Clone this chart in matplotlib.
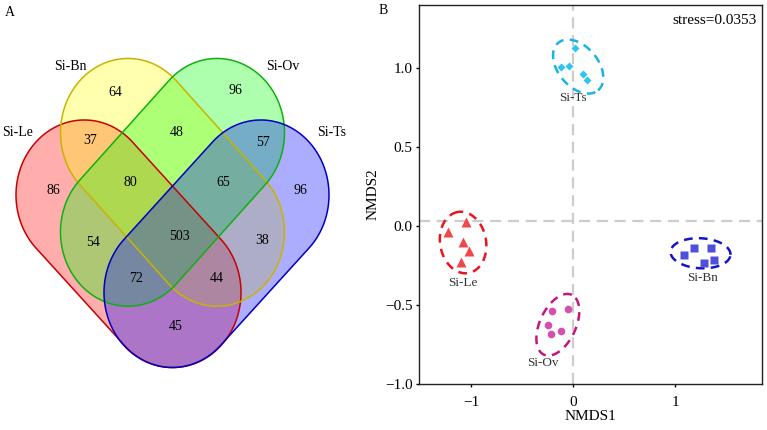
import numpy as np
import matplotlib
matplotlib.use('Agg')
import matplotlib.pyplot as plt
from matplotlib.patches import Polygon

plt.rcParams['font.family'] = ['Liberation Serif', 'DejaVu Serif']
plt.rcParams['axes.unicode_minus'] = True

# ---- Venn data (panel A) ----
venn_names = ['Si-Le', 'Si-Bn', 'Si-Ov', 'Si-Ts']
venn_fill = ['#ff0000', '#ffff00', '#00ff00', '#0000ff']
venn_edge = ['#c80000', '#c8b400', '#10b010', '#0000c0']
region_names = ['Le', 'Bn', 'Ov', 'Ts', 'Le&Bn', 'Bn&Ov', 'Ov&Ts',
                'Le&Ov', 'Bn&Ts', 'Le&Ts', 'Le&Bn&Ov', 'Bn&Ov&Ts',
                'Le&Ov&Ts', 'Le&Bn&Ts', 'all']
region_counts = [86, 64, 96, 96, 37, 48, 57, 54, 38, 45, 80, 65, 72, 44, 503]

# ---- NMDS data (panel B) ----
groups = ['Si-Le', 'Si-Bn', 'Si-Ov', 'Si-Ts']
le_x = [-1.052, -1.223, -1.075, -1.020, -1.098]
le_y = [0.027, -0.040, -0.099, -0.156, -0.229]
bn_x = [1.088, 1.179, 1.353, 1.277, 1.382]
bn_y = [-0.183, -0.141, -0.141, -0.234, -0.215]
ov_x = [-0.209, -0.052, -0.242, -0.219, -0.121]
ov_y = [-0.539, -0.524, -0.625, -0.682, -0.665]
ts_x = [0.020, -0.120, -0.036, 0.095, 0.134]
ts_y = [1.130, 1.008, 1.016, 0.964, 0.924]
stress = 0.0353

fig = plt.figure(figsize=(7.67, 4.30), dpi=100)

# ================= Panel A: Venn =================
axv = fig.add_axes([0, 0, 350 / 767, 1])
axv.set_xlim(0, 350)
axv.set_ylim(430, 0)
axv.axis('off')


def capsule(c1, c2, r, s=1.1, n=80):
    # stadium shape, built with round caps then stretched vertically by s
    p1 = np.array([c1[0], c1[1] / s])
    p2 = np.array([c2[0], c2[1] / s])
    phi = np.arctan2(p2[1] - p1[1], p2[0] - p1[0])
    t2 = np.linspace(phi - np.pi / 2, phi + np.pi / 2, n)
    t1 = np.linspace(phi + np.pi / 2, phi + 3 * np.pi / 2, n)
    xs = np.concatenate([p2[0] + r * np.cos(t2), p1[0] + r * np.cos(t1)])
    ys = np.concatenate([p2[1] + r * np.sin(t2), p1[1] + r * np.sin(t1)])
    return np.column_stack([xs, ys * s])


mid = 172.5
shapes = [
    capsule((84.2, 195), (172.8, 292.5), 68.2),
    capsule((128, 132.7), (217, 232), 67.5),
    capsule((2 * mid - 128, 132.7), (2 * mid - 217, 232), 67.5),
    capsule((2 * mid - 84.2, 195), (2 * mid - 172.8, 292.5), 68.2),
]
for pts, fc in zip(shapes, venn_fill):
    axv.add_patch(Polygon(pts, closed=True, facecolor=fc, alpha=0.32,
                          edgecolor='none'))
for pts, ec in zip(shapes, venn_edge):
    axv.add_patch(Polygon(pts, closed=True, facecolor='none',
                          edgecolor=ec, lw=1.1))

region_pos = [(53, 190), (115, 92), (235, 90), (300, 190), (90, 141),
              (177, 132), (263, 143), (93, 243), (262, 240), (176, 327),
              (130, 183), (223, 183), (136, 278), (217, 278), (179, 236)]
for (x, y), v in zip(region_pos, region_counts):
    axv.text(x, y, str(v), ha='center', va='center', fontsize=10)

label_pos = [(18, 132), (70, 66), (283, 66), (332, 132)]
for (x, y), name in zip(label_pos, venn_names):
    axv.text(x, y, name, ha='center', va='center', fontsize=10)
axv.text(10, 12, 'A', ha='center', va='center', fontsize=10)

# ================= Panel B: NMDS =================
ax = fig.add_axes([419 / 767, 46 / 430, 343 / 767, 379 / 430])
ax.set_xlim(-1.51, 1.85)
ax.set_ylim(-1.0, 1.40)
fig.text(383 / 767, 1 - 10 / 430, 'B', ha='center', va='center', fontsize=10)

ax.axvline(0, color='#cccccc', lw=1.6, ls=(0, (5, 3)), zorder=0)
ax.axhline(0.03, color='#cccccc', lw=1.6, ls=(0, (5, 3)), zorder=0)

sx = 343 / (1.85 + 1.51)
sy = 379 / (1.40 + 1.0)


def ellipse_xy(cx, cy, a, b, ang):
    t = np.linspace(0, 2 * np.pi, 200)
    th = np.radians(ang)
    px = a * np.cos(t) * np.cos(th) - b * np.sin(t) * np.sin(th)
    py = a * np.cos(t) * np.sin(th) + b * np.sin(t) * np.cos(th)
    return cx + px / sx, cy + py / sy


series = [
    (le_x, le_y, '^', '#f04848', '#e8141e', 7, (-1.078, -0.104, 31, 23, 100), (-1.078, -0.36)),
    (bn_x, bn_y, 's', '#4f4fdc', '#1414c8', 6, (1.248, -0.172, 30, 15, -3), (1.27, -0.33)),
    (ov_x, ov_y, 'o', '#d64fb0', '#c8147f', 5.5, (-0.150, -0.625, 33, 18, 65), (-0.30, -0.87)),
    (ts_x, ts_y, 'D', '#2ec4f0', '#18b4e6', 4.5, (0.049, 1.010, 31, 20, -50), (0.0, 0.81)),
]
for (xs, ys, mk, pc, ec, ms, ell, lab), name in zip(series, groups):
    ax.plot(xs, ys, mk, color=pc, ms=ms, mec='none', ls='none', zorder=3)
    ex, ey = ellipse_xy(*ell)
    ax.plot(ex, ey, color=ec, lw=1.8, ls=(0, (3.5, 2.5)), zorder=2)
    ax.text(lab[0], lab[1], name, ha='center', va='center', fontsize=9.5,
            color='#333333')

ax.text(0.985, 0.975, 'stress=%.4f' % stress, transform=ax.transAxes,
        ha='right', va='top', fontsize=11)

ax.set_xticks([-1, 0, 1])
ax.set_yticks([-1.0, -0.5, 0.0, 0.5, 1.0])
ax.set_yticklabels(['\u22121.0', '\u22120.5', '0.0', '0.5', '1.0'])
ax.tick_params(labelsize=11, length=2.5, width=1, pad=2)
ax.tick_params(axis='x', pad=6)
ax.set_xlabel('NMDS1', fontsize=11, labelpad=1)
ax.set_ylabel('NMDS2', fontsize=11, labelpad=4)
for sp in ax.spines.values():
    sp.set_linewidth(1.0)
    sp.set_color('#222222')

fig.savefig('out.png', dpi=100)
